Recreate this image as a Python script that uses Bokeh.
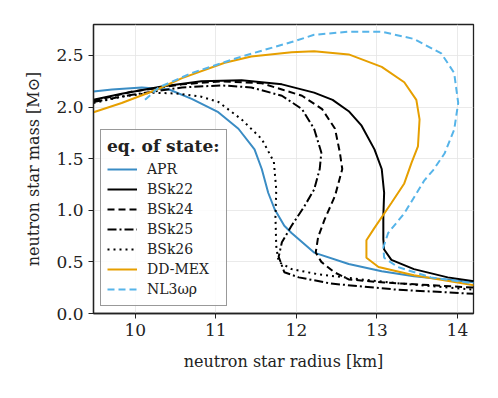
from bokeh.plotting import figure
from bokeh.models import FixedTicker, PrintfTickFormatter, Legend, LegendItem
from bokeh.embed import file_html
from bokeh.resources import INLINE

# ---- data (radius km, mass Msun) ----
apr_r = [9.48, 9.71, 10.08, 10.42, 10.70, 11.03, 11.28, 11.48, 11.57, 11.65, 11.73, 11.85, 11.94, 12.22, 12.65, 13.06, 13.46, 14.23]
apr_m = [2.15, 2.17, 2.19, 2.17, 2.08, 1.95, 1.79, 1.59, 1.40, 1.17, 1.01, 0.85, 0.78, 0.59, 0.48, 0.41, 0.36, 0.30]

bsk22_r = [9.48, 9.83, 10.33, 10.82, 11.32, 11.82, 12.22, 12.45, 12.65, 12.81, 12.97, 13.06, 13.09, 13.08, 13.08, 13.09, 13.18, 13.46, 13.88, 14.23]
bsk22_m = [2.07, 2.13, 2.20, 2.25, 2.26, 2.22, 2.14, 2.07, 1.96, 1.82, 1.59, 1.40, 1.17, 0.94, 0.72, 0.62, 0.52, 0.43, 0.35, 0.31]

bsk24_r = [9.48, 9.96, 10.58, 11.07, 11.57, 11.82, 12.07, 12.32, 12.48, 12.54, 12.57, 12.48, 12.35, 12.27, 12.24, 12.31, 12.47, 12.65, 13.09, 14.23]
bsk24_m = [2.06, 2.15, 2.22, 2.25, 2.23, 2.17, 2.11, 1.98, 1.79, 1.56, 1.40, 1.14, 0.91, 0.74, 0.59, 0.50, 0.40, 0.33, 0.30, 0.25]

bsk25_r = [9.48, 9.96, 10.58, 11.07, 11.44, 11.82, 12.07, 12.22, 12.31, 12.29, 12.22, 12.10, 11.94, 11.82, 11.78, 11.85, 12.03, 12.43, 13.26, 14.23]
bsk25_m = [2.05, 2.12, 2.19, 2.21, 2.19, 2.11, 1.98, 1.79, 1.56, 1.40, 1.20, 1.04, 0.85, 0.69, 0.55, 0.40, 0.35, 0.29, 0.23, 0.19]

bsk26_r = [9.48, 9.83, 10.20, 10.54, 10.82, 11.03, 11.32, 11.57, 11.72, 11.75, 11.74, 11.75, 11.78, 11.94, 12.27, 12.81, 13.30, 14.23]
bsk26_m = [2.04, 2.10, 2.14, 2.13, 2.10, 2.05, 1.88, 1.69, 1.47, 1.20, 0.94, 0.65, 0.50, 0.43, 0.38, 0.33, 0.29, 0.23]

ddmex_r = [9.48, 9.83, 10.27, 10.58, 11.11, 11.44, 11.94, 12.22, 12.65, 13.06, 13.34, 13.49, 13.53, 13.51, 13.43, 13.34, 13.18, 12.97, 12.87, 12.87, 13.02, 13.46, 14.23]
ddmex_m = [1.95, 2.04, 2.17, 2.28, 2.43, 2.49, 2.53, 2.54, 2.51, 2.39, 2.24, 2.07, 1.88, 1.62, 1.46, 1.26, 1.07, 0.83, 0.71, 0.54, 0.45, 0.37, 0.27]

nl3_r = [10.12, 10.29, 10.70, 11.32, 11.94, 12.22, 12.65, 13.06, 13.46, 13.80, 13.96, 14.01, 13.96, 13.84, 13.70, 13.59, 13.34, 13.14, 13.08, 13.09, 13.26, 13.67, 14.23]
nl3_m = [2.07, 2.19, 2.33, 2.49, 2.63, 2.70, 2.73, 2.73, 2.66, 2.52, 2.33, 2.04, 1.78, 1.55, 1.39, 1.29, 0.97, 0.78, 0.64, 0.54, 0.45, 0.35, 0.29]

x_ticks = [10, 11, 12, 13, 14]
y_ticks = [0.0, 0.5, 1.0, 1.5, 2.0, 2.5]

FONT = "DejaVu Serif"

p = figure(width=490, height=390, output_backend="svg", toolbar_location=None,
           x_range=(9.48, 14.2), y_range=(0.0, 2.8),
           min_border_left=93, min_border_top=24, min_border_right=17, min_border_bottom=77)

p.outline_line_color = "#222222"
p.outline_line_width = 1.3
for ax in (p.xaxis[0], p.yaxis[0]):
    ax.axis_line_color = "#222222"
    ax.axis_line_width = 1.3
    ax.major_tick_line_color = "#222222"
    ax.major_tick_out = 5
    ax.major_tick_in = 0
    ax.minor_tick_line_color = None
    ax.major_label_text_font = FONT
    ax.major_label_text_font_size = "17px"
    ax.major_label_text_color = "#222222"
    ax.axis_label_text_font = FONT
    ax.axis_label_text_font_size = "16px"
    ax.axis_label_text_font_style = "normal"
    ax.axis_label_text_color = "#222222"
p.xaxis.axis_label_standoff = 13
p.yaxis.axis_label_standoff = 10

p.xaxis.ticker = FixedTicker(ticks=x_ticks)
p.yaxis.ticker = FixedTicker(ticks=y_ticks)
p.yaxis.formatter = PrintfTickFormatter(format="%.1f")
p.xaxis.axis_label = "neutron star radius [km]"
p.yaxis.axis_label = "neutron star mass [M\u2299]"

p.grid.grid_line_color = "#e4e4e4"
p.grid.grid_line_width = 0.8

lw = 2.0
r1 = p.line(apr_r, apr_m, line_color="#3a8cc4", line_width=lw)
r2 = p.line(bsk22_r, bsk22_m, line_color="black", line_width=lw)
r3 = p.line(bsk24_r, bsk24_m, line_color="black", line_width=lw, line_dash="7 4")
r4 = p.line(bsk25_r, bsk25_m, line_color="black", line_width=lw, line_dash="9 3 2 3")
r5 = p.line(bsk26_r, bsk26_m, line_color="black", line_width=lw, line_dash="2 4")
r6 = p.line(ddmex_r, ddmex_m, line_color="#E69F00", line_width=lw)
r7 = p.line(nl3_r, nl3_m, line_color="#56B4E9", line_width=lw, line_dash="7 4")

legend = Legend(items=[
    LegendItem(label="APR", renderers=[r1]),
    LegendItem(label="BSk22", renderers=[r2]),
    LegendItem(label="BSk24", renderers=[r3]),
    LegendItem(label="BSk25", renderers=[r4]),
    LegendItem(label="BSk26", renderers=[r5]),
    LegendItem(label="DD-MEX", renderers=[r6]),
    LegendItem(label="NL3\u03c9\u03c1", renderers=[r7]),
], location=(7, 7), title="eq. of state:")
legend.title_text_font = FONT
legend.title_text_font_style = "bold"
legend.title_text_font_size = "17px"
legend.title_text_color = "#222222"
legend.title_standoff = 3
legend.label_text_font = FONT
legend.label_text_font_size = "14px"
legend.label_text_color = "#222222"
legend.glyph_width = 30
legend.glyph_height = 20
legend.label_height = 20
legend.label_standoff = 10
legend.spacing = 0
legend.padding = 6
legend.margin = 0
legend.border_line_color = "#333333"
legend.border_line_width = 1.3
legend.background_fill_alpha = 0.85
p.add_layout(legend, "center")

open("out.html", "w").write(file_html(p, INLINE))
